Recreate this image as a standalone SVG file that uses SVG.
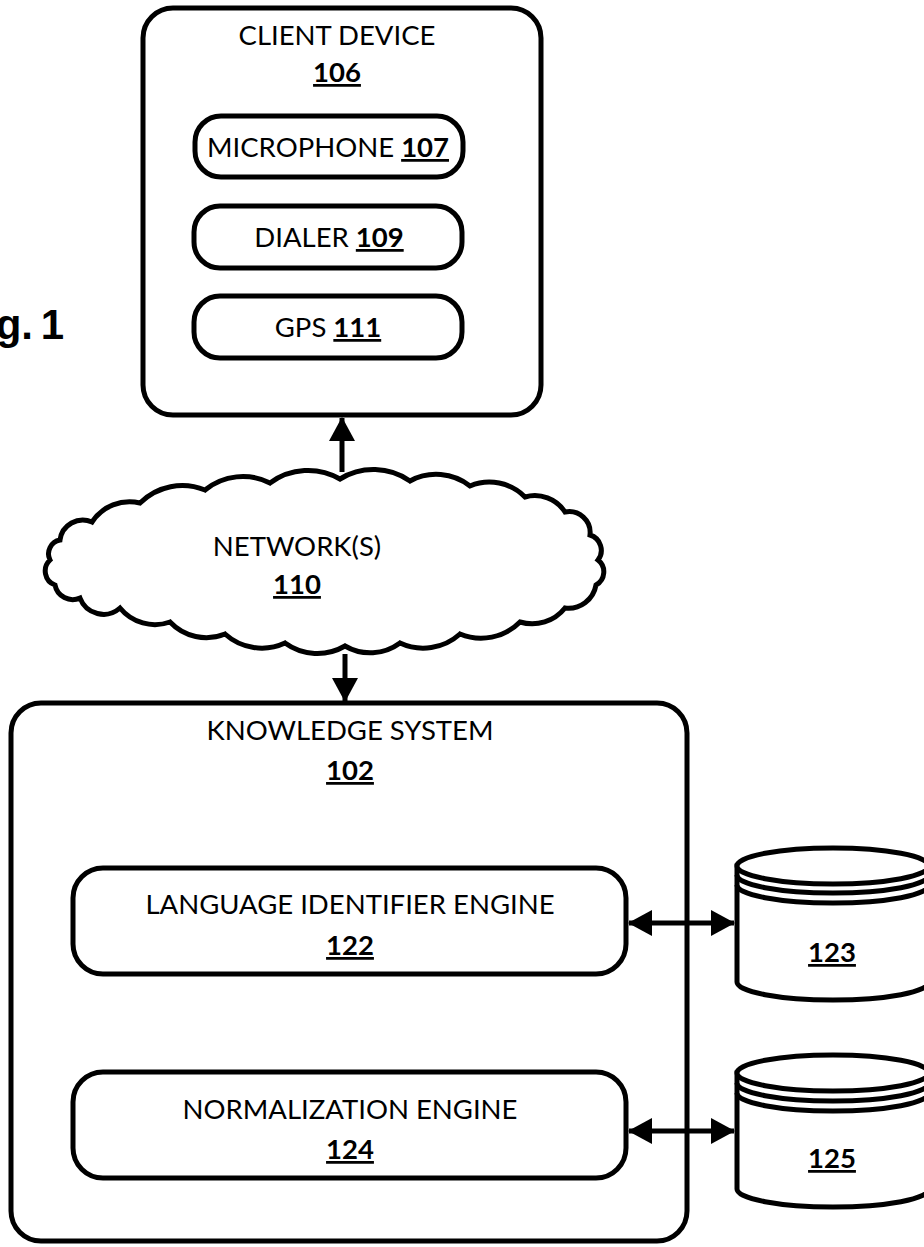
<svg xmlns="http://www.w3.org/2000/svg" width="924" height="1247" viewBox="0 0 924 1247">
  <style>
    .box { fill: #fff; stroke: #000; stroke-width: 5; }
    .line { fill: none; stroke: #000; stroke-width: 5; }
    .t { font-family: Lato, "Open Sans", "Liberation Sans", sans-serif; font-size: 27.5px; fill: #000; text-anchor: middle; }
    .n { font-weight: bold; text-decoration: underline; }
    .fig { font-family: "Liberation Sans", Arial, sans-serif; font-size: 42px; font-weight: bold; fill: #000; word-spacing: -4px; }
  </style>
  <defs>
    <marker id="head" viewBox="0 0 24 26" refX="23" refY="13" markerWidth="24" markerHeight="26" markerUnits="userSpaceOnUse" orient="auto-start-reverse">
      <path d="M0,0 L24,13 L0,26 Z" fill="#000"/>
    </marker>
  </defs>

  <rect width="924" height="1247" fill="#fff"/>

  <text class="fig" x="64" y="339" text-anchor="end">Fig. 1</text>

  <g id="client-device">
    <rect class="box" x="143" y="8" width="398" height="407" rx="30"/>
    <text class="t" x="337" y="45">CLIENT DEVICE</text>
    <text class="t n" x="337" y="82">106</text>
  </g>

  <g id="microphone">
    <rect class="box" x="195" y="116" width="268" height="61" rx="26"/>
    <text class="t" x="328" y="157">MICROPHONE <tspan class="n">107</tspan></text>
  </g>

  <g id="dialer">
    <rect class="box" x="194" y="206" width="268" height="62" rx="26"/>
    <text class="t" x="329" y="247">DIALER <tspan class="n">109</tspan></text>
  </g>

  <g id="gps">
    <rect class="box" x="194" y="296" width="268" height="62" rx="26"/>
    <text class="t" x="328" y="337">GPS <tspan class="n">111</tspan></text>
  </g>

  <g id="network">
    <!-- cloud outline: gentle scallops along top and bottom, tighter curls at the ends -->
    <path class="box" d="M92,522
      A45,45 0 0 1 140,503
      A60,60 0 0 1 205,490
      A60,60 0 0 1 270,483
      A64,64 0 0 1 340,479
      A64,64 0 0 1 410,481
      A55,55 0 0 1 470,486
      A50,50 0 0 1 525,497
      A36,36 0 0 1 565,512
      A21,21 0 0 1 590,535
      A16,16 0 0 1 598,560
      A15,15 0 0 1 596,585
      A28,28 0 0 1 565,608
      A42,42 0 0 1 520,622
      A55,55 0 0 1 460,634
      A55,55 0 0 1 400,643
      A50,50 0 0 1 345,646
      A55,55 0 0 1 285,643
      A55,55 0 0 1 225,634
      A50,50 0 0 1 170,622
      A45,45 0 0 1 120,608
      A25,25 0 0 1 80,598
      A18,18 0 0 1 55,585
      A15,15 0 0 1 50,560
      A14,14 0 0 1 60,540
      A23,23 0 0 1 92,522 Z"/>
    <text class="t" x="297" y="556">NETWORK(S)</text>
    <text class="t n" x="297" y="594">110</text>
  </g>

  <g id="knowledge-system">
    <rect class="box" x="11" y="703" width="676" height="538" rx="30"/>
    <text class="t" x="350" y="740">KNOWLEDGE SYSTEM</text>
    <text class="t n" x="350" y="780">102</text>
  </g>

  <g id="language-identifier-engine">
    <rect class="box" x="73" y="868" width="553" height="106" rx="30"/>
    <text class="t" x="350" y="914">LANGUAGE IDENTIFIER ENGINE</text>
    <text class="t n" x="350" y="955">122</text>
  </g>

  <g id="normalization-engine">
    <rect class="box" x="73" y="1072" width="553" height="106" rx="30"/>
    <text class="t" x="350" y="1119">NORMALIZATION ENGINE</text>
    <text class="t n" x="350" y="1159">124</text>
  </g>

  <g id="store-123">
    <path class="box" d="M737,866 L737,982 A96,18 0 0 0 929,982 L929,866 Z"/>
    <ellipse class="box" cx="833" cy="866" rx="96" ry="18"/>
    <path class="line" d="M737,875 A96,18 0 0 0 929,875"/>
    <path class="line" d="M737,885 A96,18 0 0 0 929,885"/>
    <text class="t n" x="832" y="962">123</text>
  </g>

  <g id="store-125">
    <path class="box" d="M737,1073 L737,1189 A96,18 0 0 0 929,1189 L929,1073 Z"/>
    <ellipse class="box" cx="833" cy="1073" rx="96" ry="18"/>
    <path class="line" d="M737,1083 A96,18 0 0 0 929,1083"/>
    <path class="line" d="M737,1093 A96,18 0 0 0 929,1093"/>
    <text class="t n" x="832" y="1168">125</text>
  </g>

  <g id="connectors">
    <line class="line" x1="342" y1="472" x2="342" y2="418" marker-end="url(#head)"/>
    <line class="line" x1="345" y1="654" x2="345" y2="701" marker-end="url(#head)"/>
    <line class="line" x1="629" y1="923" x2="734" y2="923" marker-start="url(#head)" marker-end="url(#head)"/>
    <line class="line" x1="629" y1="1131" x2="734" y2="1131" marker-start="url(#head)" marker-end="url(#head)"/>
  </g>
</svg>
